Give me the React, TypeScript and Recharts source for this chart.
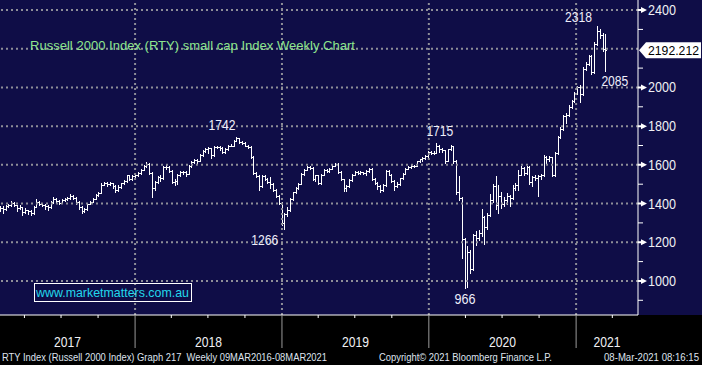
import React from "react";
import { ComposedChart, Bar, XAxis, YAxis, ReferenceLine, ReferenceDot } from "recharts";

const DAY = 24 * 3600 * 1000;
const WEEK = 7 * DAY;
const firstWeek = Date.UTC(2017, 0, 31);

// weekly OHLC (RTY)
const weekOpen = [
  1370, 1375, 1372, 1388, 1393, 1405, 1390, 1375, 1382, 1355, 1365, 1360, 1350, 1382, 1410, 1400, 1392, 1385, 1380, 1410,
  1425, 1415, 1405, 1420, 1425, 1428, 1440, 1430, 1410, 1380, 1360, 1370, 1400, 1410, 1425, 1445, 1455, 1498, 1505, 1500,
  1505, 1490, 1470, 1485, 1505, 1515, 1545, 1525, 1540, 1545, 1560, 1575, 1595, 1605, 1560, 1480, 1510, 1535, 1530, 1590,
  1590, 1570, 1510, 1515, 1545, 1565, 1565, 1555, 1595, 1615, 1625, 1620, 1650, 1670, 1680, 1685, 1650, 1690, 1692, 1685,
  1665, 1680, 1700, 1700, 1725, 1738, 1720, 1715, 1700, 1690, 1640, 1560, 1540, 1490, 1540, 1525, 1510, 1500, 1470, 1440,
  1405, 1300, 1345, 1365, 1425, 1460, 1480, 1500, 1555, 1575, 1590, 1585, 1525, 1545, 1505, 1550, 1575, 1570, 1580, 1595,
  1605, 1565, 1525, 1480, 1490, 1520, 1550, 1565, 1560, 1562, 1560, 1570, 1580, 1525, 1505, 1490, 1470, 1495, 1570, 1550,
  1515, 1490, 1500, 1530, 1555, 1580, 1590, 1595, 1595, 1620, 1628, 1635, 1645, 1665, 1660, 1662, 1700, 1680, 1675, 1620,
  1680, 1695, 1620, 1460, 1430, 1215, 1000, 1150, 1060, 1240, 1220, 1250, 1330, 1280, 1340, 1420, 1490, 1395, 1440, 1400,
  1420, 1440, 1430, 1480, 1495, 1550, 1585, 1558, 1590, 1510, 1535, 1530, 1540, 1545, 1640, 1630, 1640, 1545, 1660, 1745,
  1785, 1850, 1860, 1900, 1930, 1970, 2000, 1965, 2095, 2120, 2160, 2080, 2225, 2290, 2270, 2200,
];
const weekHigh = [
  1385, 1385, 1392, 1398, 1412, 1408, 1392, 1390, 1384, 1375, 1368, 1365, 1385, 1422, 1412, 1405, 1396, 1392, 1415, 1432,
  1428, 1418, 1425, 1430, 1432, 1447, 1442, 1432, 1412, 1385, 1378, 1405, 1415, 1430, 1450, 1462, 1505, 1512, 1510, 1512,
  1508, 1495, 1495, 1508, 1520, 1550, 1548, 1545, 1552, 1565, 1580, 1598, 1615, 1608, 1562, 1515, 1540, 1545, 1595, 1600,
  1592, 1572, 1525, 1555, 1570, 1570, 1570, 1600, 1618, 1630, 1630, 1655, 1675, 1688, 1690, 1688, 1695, 1698, 1695, 1690,
  1685, 1705, 1708, 1728, 1742, 1740, 1725, 1720, 1705, 1695, 1645, 1565, 1545, 1545, 1545, 1530, 1535, 1505, 1475, 1445,
  1408, 1352, 1380, 1430, 1462, 1485, 1505, 1560, 1580, 1592, 1595, 1588, 1550, 1548, 1555, 1580, 1580, 1585, 1598, 1610,
  1608, 1568, 1528, 1495, 1525, 1555, 1570, 1568, 1568, 1565, 1575, 1585, 1582, 1530, 1510, 1495, 1500, 1575, 1572, 1552,
  1520, 1510, 1532, 1558, 1582, 1595, 1598, 1600, 1622, 1632, 1640, 1650, 1670, 1672, 1672, 1715, 1705, 1685, 1678, 1682,
  1702, 1700, 1625, 1540, 1435, 1220, 1180, 1160, 1245, 1260, 1265, 1370, 1335, 1350, 1450, 1500, 1540, 1495, 1460, 1435,
  1455, 1445, 1495, 1505, 1575, 1592, 1588, 1595, 1592, 1540, 1545, 1545, 1552, 1650, 1645, 1645, 1642, 1665, 1750, 1795,
  1858, 1870, 1910, 1935, 1975, 2010, 2012, 2105, 2130, 2170, 2168, 2235, 2318, 2300, 2280, 2275,
];
const weekLow = [
  1360, 1350, 1368, 1382, 1388, 1385, 1362, 1372, 1340, 1350, 1345, 1342, 1348, 1380, 1395, 1385, 1370, 1368, 1378, 1405,
  1408, 1400, 1402, 1415, 1420, 1425, 1422, 1400, 1372, 1352, 1355, 1368, 1398, 1408, 1422, 1440, 1452, 1495, 1492, 1495,
  1480, 1458, 1465, 1482, 1500, 1512, 1520, 1522, 1535, 1540, 1555, 1572, 1590, 1555, 1433, 1470, 1505, 1515, 1528, 1580,
  1565, 1505, 1495, 1500, 1540, 1555, 1540, 1552, 1590, 1610, 1612, 1618, 1645, 1665, 1660, 1635, 1648, 1685, 1675, 1660,
  1660, 1678, 1695, 1698, 1722, 1715, 1710, 1695, 1685, 1635, 1555, 1535, 1470, 1485, 1520, 1505, 1480, 1465, 1435, 1400,
  1290, 1266, 1335, 1360, 1420, 1455, 1475, 1500, 1550, 1572, 1578, 1522, 1515, 1500, 1502, 1548, 1565, 1565, 1578, 1592,
  1560, 1520, 1465, 1465, 1488, 1518, 1548, 1555, 1555, 1555, 1545, 1565, 1520, 1500, 1475, 1460, 1465, 1492, 1548, 1510,
  1470, 1485, 1495, 1528, 1552, 1578, 1585, 1588, 1592, 1615, 1622, 1630, 1640, 1655, 1655, 1660, 1668, 1665, 1612, 1618,
  1675, 1610, 1450, 1420, 1120, 966, 970, 1040, 1055, 1185, 1212, 1230, 1190, 1270, 1335, 1410, 1370, 1350, 1375, 1385,
  1400, 1385, 1425, 1470, 1470, 1548, 1548, 1555, 1500, 1490, 1522, 1440, 1525, 1540, 1610, 1620, 1540, 1540, 1655, 1740,
  1780, 1815, 1855, 1895, 1925, 1965, 1925, 1960, 2090, 2115, 2070, 2075, 2220, 2255, 2190, 2085,
];
const weekClose = [
  1375, 1372, 1388, 1393, 1405, 1390, 1375, 1382, 1355, 1365, 1360, 1350, 1382, 1410, 1400, 1392, 1385, 1380, 1410, 1425,
  1415, 1405, 1420, 1425, 1428, 1440, 1430, 1410, 1380, 1360, 1370, 1400, 1410, 1425, 1445, 1455, 1498, 1505, 1500, 1505,
  1490, 1470, 1485, 1505, 1515, 1545, 1525, 1540, 1545, 1560, 1575, 1595, 1605, 1560, 1480, 1510, 1535, 1530, 1590, 1590,
  1570, 1510, 1515, 1545, 1565, 1565, 1555, 1595, 1615, 1625, 1620, 1650, 1670, 1680, 1685, 1650, 1690, 1692, 1685, 1665,
  1680, 1700, 1700, 1725, 1738, 1720, 1715, 1700, 1690, 1640, 1560, 1540, 1490, 1540, 1525, 1510, 1500, 1470, 1440, 1405,
  1300, 1345, 1365, 1425, 1460, 1480, 1500, 1555, 1575, 1590, 1585, 1525, 1545, 1505, 1550, 1575, 1570, 1580, 1595, 1605,
  1565, 1525, 1480, 1490, 1520, 1550, 1565, 1560, 1562, 1560, 1570, 1580, 1525, 1505, 1490, 1470, 1495, 1570, 1550, 1515,
  1490, 1500, 1530, 1555, 1580, 1590, 1595, 1595, 1620, 1628, 1635, 1645, 1665, 1660, 1662, 1700, 1680, 1675, 1620, 1680,
  1695, 1620, 1460, 1430, 1215, 1000, 1150, 1060, 1240, 1220, 1250, 1330, 1280, 1340, 1420, 1490, 1395, 1440, 1400, 1420,
  1440, 1430, 1480, 1495, 1550, 1585, 1558, 1590, 1510, 1535, 1530, 1540, 1545, 1640, 1630, 1640, 1545, 1660, 1745, 1785,
  1850, 1860, 1900, 1930, 1970, 2000, 1965, 2095, 2120, 2160, 2080, 2225, 2290, 2270, 2200, 2192.212,
];

const lastPrice = 2192.212;
const priceLabels = [1000, 1200, 1400, 1600, 1800, 2000, 2200, 2400];
const priceMinor = [900, 1100, 1300, 1500, 1700, 1900, 2100, 2300];
const years = [2017, 2018, 2019, 2020, 2021];

const calloutWeeks = [84, 101, 155, 165, 212, 215];
const calloutValues = [1742, 1266, 1715, 966, 2318, 2085];
const calloutOffsets = [[-15, -12], [-20, 11], [3, -12], [0, 11], [-19, -9], [9, 10]];

const data = weekClose.map((c, i) => ({
  t: firstWeek + i * WEEK,
  open: weekOpen[i],
  high: weekHigh[i],
  low: weekLow[i],
  close: c,
}));

const x0 = firstWeek - 0.1 * WEEK;
const x1 = x0 + 226.5 * WEEK;

const yearStarts = years.slice(1).map((y) => Date.UTC(y, 0, 1));
const quarterTicks: number[] = [];
years.forEach((y) => [0, 3, 6, 9].forEach((m) => {
  const t = Date.UTC(y, m, 1);
  if (t > x0 && t < x1) quarterTicks.push(t);
}));
const yearMid: Record<number, string> = {};
years.forEach((y) => {
  const s = Math.max(Date.UTC(y, 0, 1), x0);
  const e = Math.min(Date.UTC(y + 1, 0, 1), x1);
  yearMid[(s + e) / 2] = String(y);
});
const xTicks = [...quarterTicks, ...Object.keys(yearMid).map(Number)].sort((a, b) => a - b);

// the last-price flag hides the round label under it
const yTicks = [...priceMinor, ...priceLabels.filter((v) => Math.abs(v - lastPrice) > 40), lastPrice];

const BG = "#0f0d47";
const GRID = "#8e8e98";
const FONT = "'Liberation Sans', Arial, sans-serif";

function TimeTick(props: any) {
  const { x, y, payload } = props;
  const v = payload.value;
  if (yearMid[v]) {
    return (
      <text x={x} y={y + 32} textAnchor="middle" fill="#f0f0f4" fontSize={15} fontFamily={FONT} textLength={27} lengthAdjust="spacingAndGlyphs">
        {yearMid[v]}
      </text>
    );
  }
  const jan = new Date(v).getUTCMonth() === 0;
  return jan
    ? <line x1={x} x2={x} y1={y} y2={y + 33} stroke="#9a9a9a" strokeWidth={1} />
    : <line x1={x} x2={x} y1={y} y2={y + 3} stroke="#ffffff" strokeWidth={1} />;
}

function PriceTick(props: any) {
  const { x, y, payload } = props;
  const v = payload.value;
  if (v === lastPrice) {
    return (
      <g>
        <polygon points={`${x + 1},${y} ${x + 8},${y - 8} ${x + 63},${y - 8} ${x + 63},${y + 8} ${x + 8},${y + 8}`} fill="#ffffff" />
        <text x={x + 61} y={y + 5} textAnchor="end" fill="#000000" fontSize={13} fontFamily={FONT} textLength={51} lengthAdjust="spacingAndGlyphs">
          {v.toFixed(3)}
        </text>
      </g>
    );
  }
  if (v % 200 === 0) {
    return (
      <g>
        <polygon points={`${x},${y - 1} ${x + 3},${y - 1} ${x + 3},${y - 3} ${x + 9},${y} ${x + 3},${y + 3} ${x + 3},${y + 1} ${x},${y + 1}`} fill="#ffffff" />
        <text x={x + 10} y={y + 5} fill="#f0f0f4" fontSize={14} fontFamily={FONT} textLength={28} lengthAdjust="spacingAndGlyphs">
          {v}
        </text>
      </g>
    );
  }
  return <line x1={x} x2={x + 5} y1={y} y2={y} stroke="#ffffff" strokeWidth={1} />;
}

function OhlcShape(props: any) {
  const { x, y, width, height, payload } = props;
  if (x == null || y == null || !payload) return null;
  const top = Math.min(y, y + height);
  const bottom = Math.max(y, y + height);
  const span = payload.high - payload.low || 1;
  const k = (bottom - top) / span;
  const yo = Math.round(top + (payload.high - payload.open) * k) + 0.5;
  const yc = Math.round(top + (payload.high - payload.close) * k) + 0.5;
  const cx = Math.round(x + width / 2) + 0.5;
  return (
    <path
      d={`M${cx},${Math.round(top)}V${Math.round(bottom) + 1}M${cx - 1.5},${yo}H${cx}M${cx},${yc}H${cx + 1.5}`}
      stroke="#ffffff"
      strokeWidth={1}
      fill="none"
      shapeRendering="crispEdges"
    />
  );
}

function Callout(props: any) {
  const { viewBox, text, dx, dy } = props;
  if (!viewBox) return null;
  const cx = viewBox.x + (viewBox.width || 0) / 2;
  const cy = viewBox.y + (viewBox.height || 0) / 2;
  return (
    <text x={cx + dx} y={cy + dy + 5} textAnchor="middle" fill="#eeeefa" fontSize={14} fontFamily={FONT}
      textLength={text.length === 3 ? 21 : 27} lengthAdjust="spacingAndGlyphs">
      {text}
    </text>
  );
}

export default function App() {
  return (
    <div style={{ position: "absolute", left: 0, top: 0, width: 702, height: 365, background: "#000" }}>
      <div style={{ position: "absolute", left: 0, top: 0, width: 702, height: 315, background: BG }} />
      <div style={{ position: "absolute", left: 0, top: 0 }}>
        <ComposedChart width={702} height={365} data={data} margin={{ top: 0, right: 0, bottom: 15, left: 0 }}>
          <XAxis dataKey="t" type="number" domain={[x0, x1]} allowDataOverflow ticks={xTicks} interval={0}
            tick={<TimeTick />} tickLine={false} tickSize={0} tickMargin={0} height={35}
            axisLine={{ stroke: "#ffffff" }} />
          <YAxis orientation="right" type="number" domain={[824, 2452]} allowDataOverflow
            ticks={yTicks} interval={0}
            tick={<PriceTick />} tickLine={false} tickSize={0} tickMargin={0} width={64}
            axisLine={{ stroke: "#ffffff" }} />
          {priceLabels.map((v) => (
            <ReferenceLine key={"h" + v} y={v} stroke={GRID} strokeWidth={2} strokeDasharray="2 3" />
          ))}
          {yearStarts.map((t) => (
            <ReferenceLine key={"v" + t} x={t} stroke={GRID} strokeWidth={2} strokeDasharray="2 3" />
          ))}
          <Bar dataKey={(d: any) => [d.low, d.high]} shape={<OhlcShape />} barSize={2} isAnimationActive={false} />
          {calloutWeeks.map((w, i) => (
            <ReferenceDot key={"c" + i} x={data[w].t} y={calloutValues[i]} r={0} fill="none" stroke="none"
              label={<Callout text={String(calloutValues[i])} dx={calloutOffsets[i][0]} dy={calloutOffsets[i][1]} />} />
          ))}
        </ComposedChart>
      </div>
      <svg width={702} height={365} style={{ position: "absolute", left: 0, top: 0, pointerEvents: "none" }}>
        <text x={30} y={50} fill="#8ee58e" fontSize={13} fontFamily={FONT} textLength={325} lengthAdjust="spacingAndGlyphs">
          Russell 2000 Index (RTY) small cap Index Weekly Chart
        </text>
        <rect x={34.5} y={283.5} width={157} height={18} fill="none" stroke="#ffffff" strokeWidth={1} />
        <text x={36} y={297} fill="#22d8ec" fontSize={13} fontFamily={FONT} textLength={153} lengthAdjust="spacingAndGlyphs">
          www.marketmatters.com.au
        </text>
        <g fill="#dfe3ee" fontSize={10.5} fontFamily={FONT}>
          <text x={2} y={361} textLength={325} lengthAdjust="spacingAndGlyphs" style={{ whiteSpace: "pre" }}>
            {"RTY Index (Russell 2000 Index) Graph 217  Weekly 09MAR2016-08MAR2021"}
          </text>
          <text x={465.5} y={361} textAnchor="middle" textLength={173} lengthAdjust="spacingAndGlyphs">Copyright© 2021 Bloomberg Finance L.P.</text>
          <text x={699} y={361} textAnchor="end" textLength={95} lengthAdjust="spacingAndGlyphs">08-Mar-2021 08:16:15</text>
        </g>
      </svg>
    </div>
  );
}
